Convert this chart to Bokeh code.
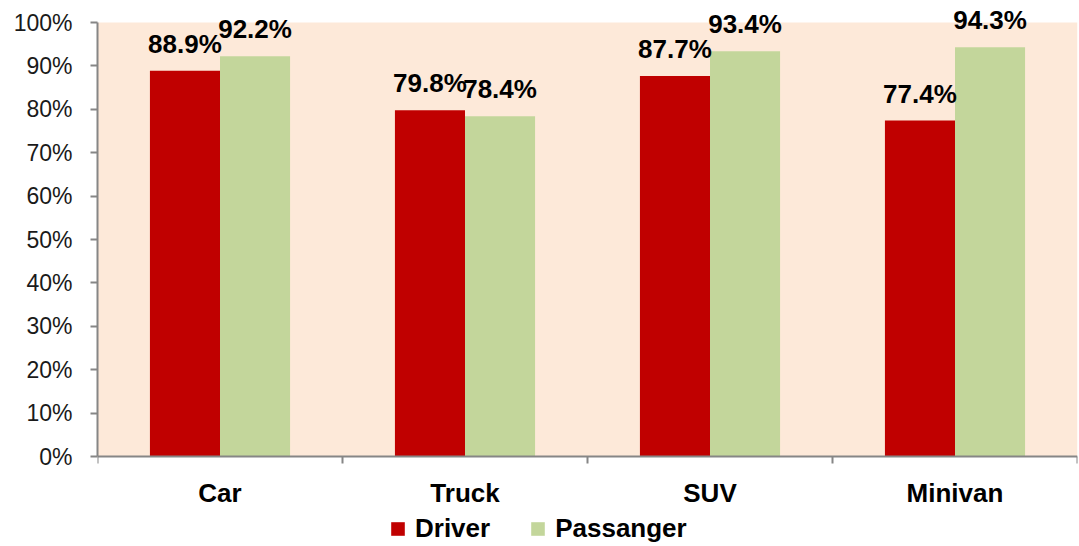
from bokeh.plotting import figure
from bokeh.models import ColumnDataSource, FixedTicker, Range1d, Legend, LegendItem, LabelSet, BoxAnnotation
from bokeh.embed import file_html
from bokeh.resources import INLINE
from bokeh.core.properties import value

categories = ["Car", "Truck", "SUV", "Minivan"]
driver = [88.9, 79.8, 87.7, 77.4]
passenger = [92.2, 78.4, 93.4, 94.3]
y_ticks = [0, 10, 20, 30, 40, 50, 60, 70, 80, 90, 100]

FONT = "Liberation Sans"
RED = "#C00000"
GREEN = "#C3D69B"
GRAY = "#868686"
BG = "#FDE9D9"

centers = [i + 0.5 for i in range(len(categories))]
bw = 0.286
off = 0.143

src_d = ColumnDataSource(dict(x=[c - off for c in centers], top=driver,
                              lbl=[f"{v:.1f}%" for v in driver]))
src_p = ColumnDataSource(dict(x=[c + off for c in centers], top=passenger,
                              lbl=[f"{v:.1f}%" for v in passenger]))

PX = 4.34  # pixels per percent point
FH = 546
y_end = 100 + 22 / PX
y_start = y_end - FH / PX

p = figure(frame_width=980, frame_height=FH,
           x_range=Range1d(0, len(categories)), y_range=Range1d(y_start, y_end),
           output_backend="svg", toolbar_location=None,
           min_border_left=97, min_border_top=0, min_border_right=2, min_border_bottom=0)

p.background_fill_color = "white"
p.border_fill_color = "white"
p.outline_line_color = None
p.add_layout(BoxAnnotation(bottom=0, top=100, left=0, right=len(categories),
                           fill_color=BG, fill_alpha=1, line_color=None, level="underlay"))
p.xgrid.grid_line_color = None
p.ygrid.grid_line_color = "white"
p.ygrid.grid_line_width = 2

r1 = p.vbar(x="x", top="top", width=bw, bottom=0, source=src_d, fill_color=RED, line_color=None)
r2 = p.vbar(x="x", top="top", width=bw, bottom=0, source=src_p, fill_color=GREEN, line_color=None)

for s in (src_d, src_p):
    p.add_layout(LabelSet(x="x", y="top", text="lbl", source=s, text_align="center",
                          text_baseline="alphabetic", y_offset=18, text_font=value(FONT),
                          text_font_style="bold", text_font_size="26px", text_color="black"))

# y axis
p.yaxis.ticker = FixedTicker(ticks=y_ticks)
p.yaxis.bounds = (0, 100)
p.yaxis.major_label_overrides = {t: f"{t}%" for t in y_ticks}
p.yaxis.axis_line_color = GRAY
p.yaxis.axis_line_width = 2
p.yaxis.major_tick_line_color = GRAY
p.yaxis.major_tick_line_width = 2
p.yaxis.major_tick_out = 7
p.yaxis.major_tick_in = 0
p.yaxis.minor_tick_line_color = None
p.yaxis.major_label_standoff = 18
p.yaxis.major_label_text_font = FONT
p.yaxis.major_label_text_font_size = "23px"
p.yaxis.major_label_text_color = "#1a1a1a"

# x axis, pinned at 0%
p.xaxis.fixed_location = 0
p.xaxis.ticker = FixedTicker(ticks=centers, minor_ticks=list(range(len(categories) + 1)))
p.xaxis.major_label_overrides = {c: n for c, n in zip(centers, categories)}
p.xaxis.axis_line_color = GRAY
p.xaxis.axis_line_width = 2
p.xaxis.major_tick_line_color = None
p.xaxis.major_tick_out = 0
p.xaxis.major_tick_in = 0
p.xaxis.minor_tick_line_color = GRAY
p.xaxis.minor_tick_line_width = 2
p.xaxis.minor_tick_out = 7
p.xaxis.minor_tick_in = 0
p.xaxis.major_label_standoff = 14
p.xaxis.major_label_text_font = FONT
p.xaxis.major_label_text_font_style = "bold"
p.xaxis.major_label_text_font_size = "26px"
p.xaxis.major_label_text_color = "black"

legend = Legend(items=[LegendItem(label="Driver", renderers=[r1]),
                       LegendItem(label="Passanger", renderers=[r2])],
                orientation="horizontal", location=(292, 2),
                glyph_width=17, glyph_height=17, label_standoff=9, spacing=39,
                padding=0, margin=0, border_line_color=None, background_fill_alpha=0,
                label_text_font=FONT, label_text_font_style="bold", label_text_font_size="26px",
                label_text_color="black")
p.add_layout(legend)

open("out.html", "w").write(file_html(p, INLINE))
